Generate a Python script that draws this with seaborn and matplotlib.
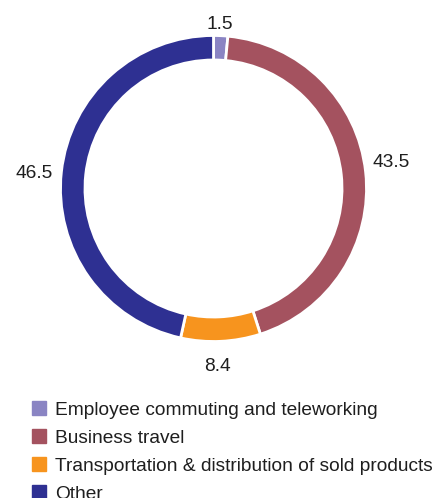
import numpy as np
import matplotlib
matplotlib.use("Agg")
import matplotlib.pyplot as plt
import seaborn as sns

categories = ["Employee commuting and teleworking", "Business travel",
              "Transportation & distribution of sold products", "Other"]
values = [1.5, 43.5, 8.4, 46.5]
value_labels = ["1.5", "43.5", "8.4", "46.5"]
colors = ["#8a84c3", "#a4525f", "#f7941e", "#2e3092"]

# label placement around the ring: radial distance and angular nudge (deg)
label_radius = [1.09, 1.175, 1.145, 1.18]
label_nudge = [0.5, 3.0, -1.4, 0.4]

sns.set_theme(style="white")
plt.rcParams["font.family"] = ["Liberation Sans", "DejaVu Sans"]

W, H = 433, 498
fig = plt.figure(figsize=(W / 100, H / 100), dpi=100)
cx, cy, r = 213.5, 188.5, 153
ax = fig.add_axes([(cx - r) / W, (H - cy - r) / H, 2 * r / W, 2 * r / H])

wedges, _ = ax.pie(values, colors=colors, startangle=90, counterclock=False,
                   radius=1.0, wedgeprops=dict(width=0.16, edgecolor="white", linewidth=2))
ax.set_xlim(-1, 1)
ax.set_ylim(-1, 1)
ax.set_aspect("equal")
ax.axis("off")

for w, lab, rad, nud in zip(wedges, value_labels, label_radius, label_nudge):
    ang = np.deg2rad((w.theta1 + w.theta2) / 2 + nud)
    ax.annotate(lab, (rad * np.cos(ang), rad * np.sin(ang)), xytext=(0, -2.2),
                textcoords="offset points", ha="center", va="center",
                fontsize=13.8, color="#1e1e1e", annotation_clip=False)

handles = [plt.Rectangle((0, 0), 1, 1, color=c) for c in colors]
fig.legend(handles, categories, loc="upper left", bbox_to_anchor=(32 / W, 1 - 401 / H),
           frameon=False, fontsize=13.8, handlelength=0.74, handleheight=0.74,
           handletextpad=0.45, labelspacing=0.54, borderaxespad=0, borderpad=0,
           labelcolor="#1e1e1e")

fig.savefig("out.png", dpi=100)
